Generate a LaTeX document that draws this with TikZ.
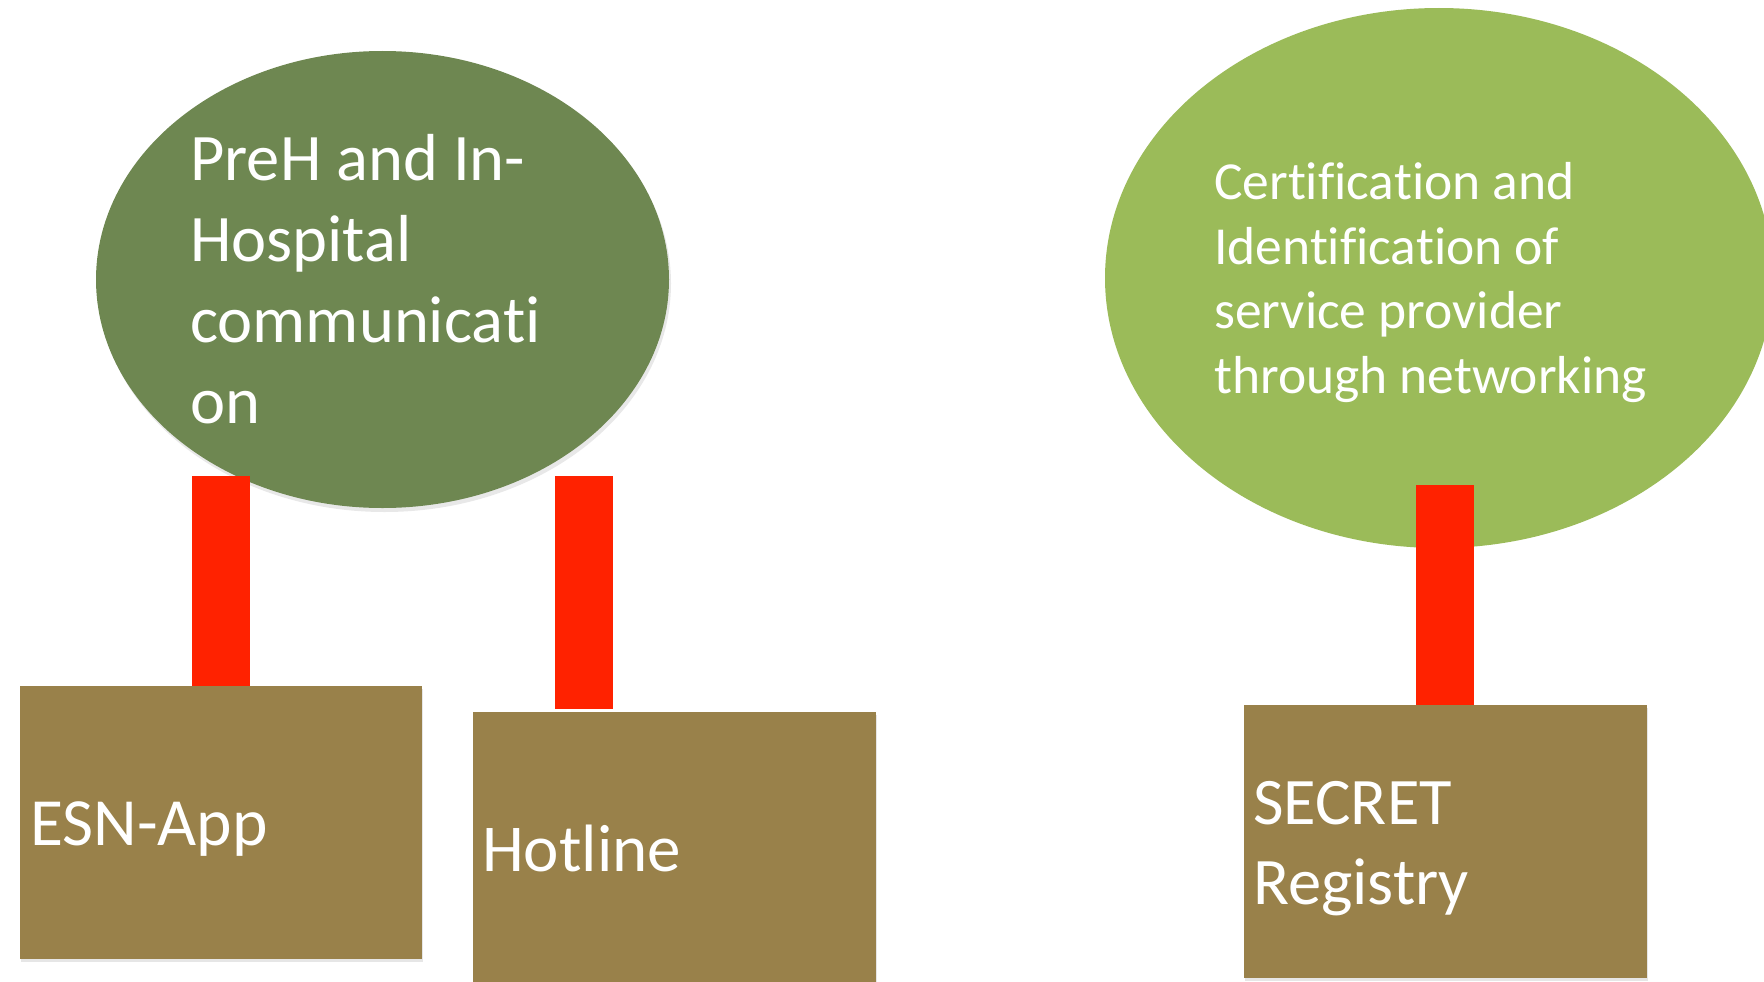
\documentclass[tikz,border=0pt]{standalone}
\usepackage{fontspec}
\setmainfont{Carlito}[Ligatures=NoCommon]
\usetikzlibrary{shapes.geometric,shadows}
\definecolor{darkolive}{HTML}{6E8751}
\definecolor{lightolive}{HTML}{9BBB59}
\definecolor{barred}{HTML}{FF2200}
\definecolor{boxbrown}{HTML}{99814A}
\begin{document}
\begin{tikzpicture}[x=1pt,y=-1pt,
  blob/.style={ellipse, inner sep=0pt},
  boxnode/.style={rectangle, fill=boxbrown, inner sep=0pt, anchor=north west,
    drop shadow={shadow xshift=1pt,shadow yshift=-3pt,opacity=0.2}},
  bar/.style={draw=barred, line width=58pt, line cap=butt},
  lbl/.style={text=white, inner sep=0pt, align=left, anchor=base west}]
\useasboundingbox (0,0) rectangle (1764,982);
\clip (0,0) rectangle (1764,982);
% ellipses
\node[blob, fill=darkolive, minimum width=573pt, minimum height=457pt,
  drop shadow={shadow xshift=2pt,shadow yshift=-4pt,opacity=0.18}] (comm) at (382.5,279.5) {};
\node[blob, fill=lightolive, minimum width=668pt, minimum height=540pt] (cert) at (1439,278) {};
% boxes
\node[boxnode, minimum width=402pt, minimum height=273pt] (esn) at (20,686) {};
\node[boxnode, minimum width=403pt, minimum height=290pt] (hot) at (473,712) {};
\node[boxnode, minimum width=403pt, minimum height=273pt] (sec) at (1244,705) {};
% connectors
\coordinate (bl) at (221,476);
\coordinate (bm) at (584,476);
\coordinate (br) at (1445,485);
\draw[bar] (bl) -- (bl |- esn.north);
\draw[bar] (bm) -- ([yshift=3pt]bm |- hot.north);
\draw[bar] (br) -- (br |- sec.north);
% labels (anchored at the baseline of the last line)
\node[lbl, font=\fontsize{66.5}{81}\selectfont] (tcomm) at (190,423)
  {PreH and In-\\Hospital\\communicati\\on};
\node[lbl, font=\fontsize{53.5}{64.5}\selectfont] (tcert) at (1214,393)
  {Certification and\\Identification of\\service provider\\through networking};
\node[lbl, font=\fontsize{67.5}{80}\selectfont] (tesn) at (30,845) {ESN-App};
\node[lbl, font=\fontsize{67}{80}\selectfont] (thot) at (482,871) {Hotline};
\node[lbl, font=\fontsize{66.5}{80}\selectfont] (tsec) at (1253,904) {SECRET\\Registry};
\end{tikzpicture}
\end{document}
